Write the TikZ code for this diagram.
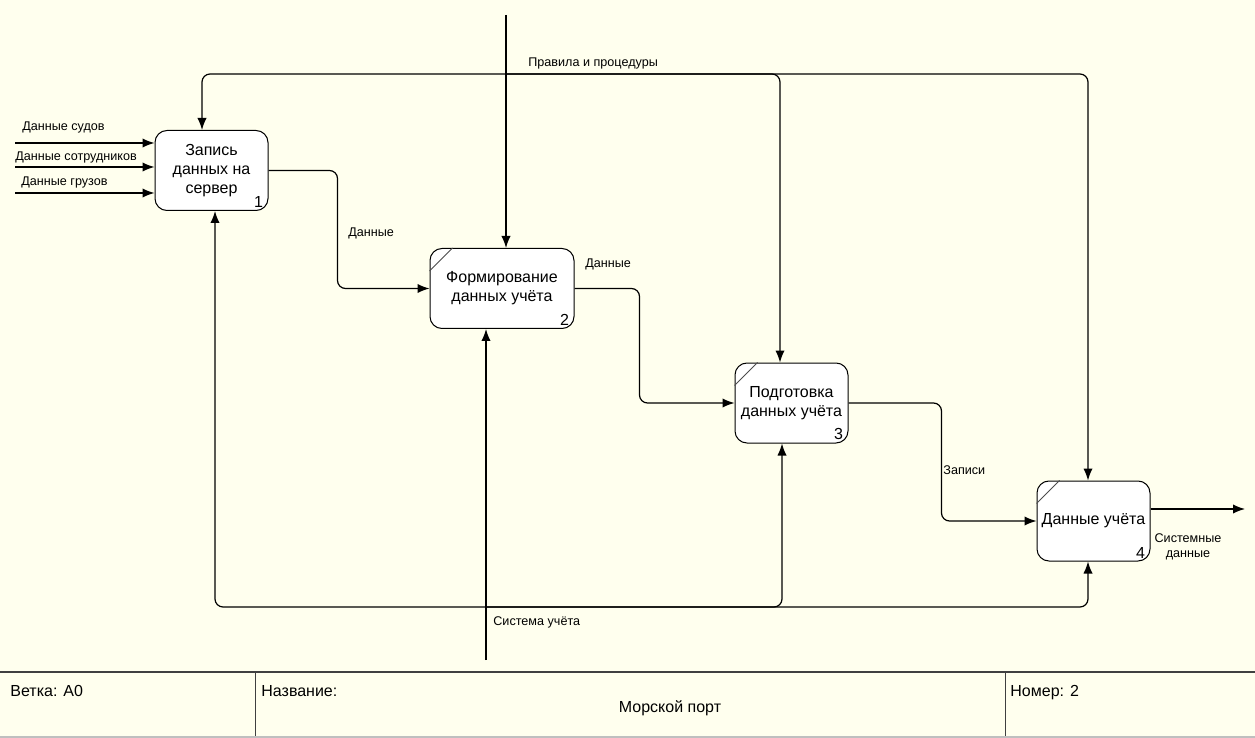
\documentclass[tikz,border=0pt]{standalone}
\usepackage{fontspec}
\setmainfont{Liberation Sans}
\usetikzlibrary{arrows.meta,calc}
\definecolor{sheet}{RGB}{255,255,238}
\tikzset{>={Latex[length=6pt,width=4.6pt]}}
\tikzset{edge/.style = {->, line width=0.6pt, rounded corners=4pt}}
\tikzset{func/.style = {draw, line width=0.5pt, fill=white, rounded corners=6pt,
    minimum width=56.5pt, minimum height=40pt, align=center, inner sep=1pt,
    font=\fontsize{8}{9.5}\selectfont}}
\tikzset{num/.style = {anchor=south east, inner sep=0pt, font=\fontsize{8}{9}\selectfont}}
\tikzset{lbl/.style = {anchor=base west, inner sep=0pt, font=\fontsize{6.3}{7.5}\selectfont}}
\tikzset{tbl/.style = {anchor=base west, inner sep=0pt, font=\fontsize{8}{9}\selectfont}}

\begin{document}
\begin{tikzpicture}[x=0.5pt,y=-0.5pt]
                    \fill[sheet] (0,0) rectangle (1255,738);
                    \useasboundingbox (0,0) rectangle (1255,738);

                    % Functions
                    \node[func] (f1) at (211.5,170.5) {Запись\\данных на\\сервер};
                    \node[func, minimum width=72pt] (f2) at (502,288.5) {Формирование\\данных учёта};
                    \node[func] (f3) at (791.5,403) {Подготовка\\данных учёта};
                    \node[func] (f4) at (1093.5,521) {Данные учёта};

                    \node[num] (n1) at ($(f1.south east)+(-5,-3)$) {1};
                    \node[num] (n2) at ($(f2.south east)+(-5,-3)$) {2};
                    \node[num] (n3) at ($(f3.south east)+(-5,-3)$) {3};
                    \node[num] (n4) at ($(f4.south east)+(-5,-3)$) {4};

                    % Corner marks
                    \foreach \f in {f2,f3,f4}
                        \draw[line width=0.4pt, black!70] ($(\f.north west)+(23,0)$) -- ($(\f.north west)+(0,23)$);

                    % Free ends
                    \coordinate (in1) at (15,143);
                    \coordinate (in2) at (15,167);
                    \coordinate (in3) at (15,193);
                    \coordinate (ctrl) at (506,15);
                    \coordinate (cj) at (506,74);
                    \coordinate (mech) at (486,660);
                    \coordinate (mj) at (486,607);
                    \coordinate (out) at (1245,509);

                    % Inputs to f1
                    \draw[edge] (in1) -- (in1 -| f1.west);
                    \draw[edge] (in2) -- (in2 -| f1.west);
                    \draw[edge] (in3) -- (in3 -| f1.west);

                    % Control from top
                    \draw[edge] (ctrl) -- (ctrl |- f2.north);
                    \draw[edge] (cj) -| ([xshift=-4.75pt]f1.north);
                    \draw[edge] (cj) -| ([xshift=-5.75pt]f3.north);
                    \draw[edge] (cj) -| ([xshift=-2.75pt]f4.north);

                    % Mechanism from bottom
                    \draw[edge] (mech) -- (mech |- f2.south);
                    \draw[edge] (mj) -| ([xshift=1.75pt]f1.south);
                    \draw[edge] (mj) -| ([xshift=-4.75pt]f3.south);
                    \draw[edge] (mj) -| ([xshift=-2.75pt]f4.south);

                    % Flows between functions
                    \draw[edge] (f1.east) -- ++(69,0) |- (f2.west);
                    \draw[edge] (f2.east) -- ++(65,0) |- (f3.west);
                    \draw[edge] (f3.east) -- ++(93,0) |- (f4.west);
                    \draw[edge] ([yshift=6pt]f4.east) -- (out);

                    % Labels
                    \node[lbl] (l1) at (22,131) {Данные судов};
                    \node[lbl] (l2) at (15,161) {Данные сотрудников};
                    \node[lbl] (l3) at (21,186) {Данные грузов};
                    \node[lbl] (lctrl) at (528,67) {Правила и процедуры};
                    \node[lbl] (lmech) at (493,625) {Система учёта};
                    \node[lbl] (ld1) at (348,237) {Данные};
                    \node[lbl] (ld2) at (585,268) {Данные};
                    \node[lbl] (lrec) at (943,474) {Записи};
                    \node[lbl, anchor=north, align=center] (lout) at (1188,533) {Системные\\данные};

                    % Title block
                    \draw[line width=0.6pt, black!75] (0,672) -- (1255,672);
                    \draw[line width=0.5pt, black!75] (255,672) -- (255,737);
                    \draw[line width=0.5pt, black!75] (1005,672) -- (1005,737);
                    \draw[line width=0.6pt, black!25] (0,737) -- (1255,737);
                    \node[tbl] (branch) at (10,696) {Ветка: A0};
                    \node[tbl] (title) at (261,696) {Название:};
                    \node[tbl, anchor=base] (name) at (670,712) {Морской порт};
                    \node[tbl] (number) at (1010,696) {Номер: 2};
                \end{tikzpicture}
\end{document}
